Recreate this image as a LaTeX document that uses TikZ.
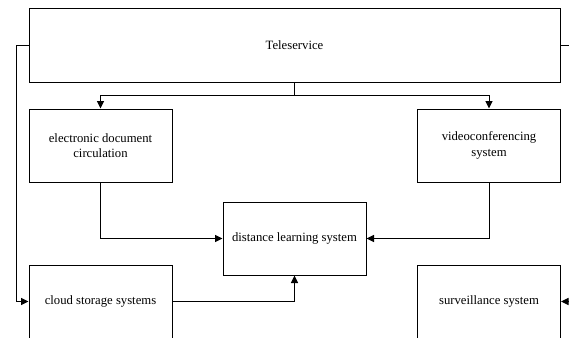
\documentclass[tikz,border=0pt]{standalone}
\usepackage{fontspec}
\setmainfont{Liberation Serif}
\usetikzlibrary{arrows.meta}

\tikzset{
  blockbox/.style={draw, line width=1pt, minimum width=143pt, minimum height=73pt,
    align=center, inner sep=2pt, font=\fontsize{12.7}{15.5}\selectfont},
  link/.style={line width=1pt, -{Triangle[length=7.5pt,width=7pt]}},
  plainlink/.style={line width=1pt}
}

\begin{document}
\begin{tikzpicture}[x=1pt,y=-1pt]
\useasboundingbox (0,0) rectangle (569,337);
\clip (0,0) rectangle (569,337);
\node[blockbox, minimum width=531pt] (tele) at (294.5,45.5) {Teleservice};
\node[blockbox] (edoc) at (100.5,145.5) {electronic document\\circulation};
\node[blockbox] (video) at (489,145.5) {videoconferencing\\system};
\node[blockbox] (dist) at (294.5,238.5) {distance learning system};
\node[blockbox] (cloud) at (100.5,301.5) {cloud storage systems};
\node[blockbox] (surv) at (489,301.5) {surveillance system};
\coordinate (split) at (294.5,95);
\coordinate (leftbus) at (16,45.5);
\coordinate (rightout) at (572,45.5);
\coordinate (rightin) at (572,301.5);
\draw[plainlink] (tele.south) -- (split);
\draw[link] (split) -| (edoc.north);
\draw[link] (split) -| (video.north);
\draw[link] (tele.west) -- (leftbus) |- (cloud.west);
\draw[plainlink] (tele.east) -- (rightout);
\draw[link] (rightin) -- (surv.east);
\draw[link] (edoc.south) |- (dist.west);
\draw[link] (video.south) |- (dist.east);
\draw[link] (cloud.east) -| (dist.south);
\end{tikzpicture}
\end{document}
